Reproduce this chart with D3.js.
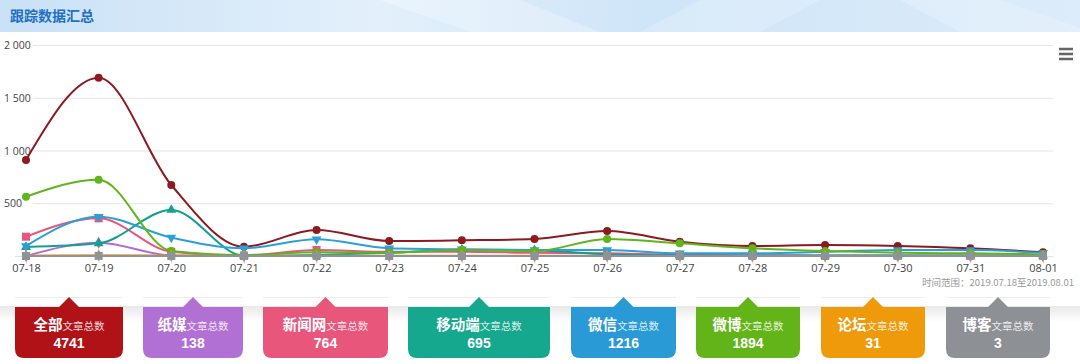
<!DOCTYPE html>
<html><head><meta charset="utf-8">
<script src="https://cdn.jsdelivr.net/npm/d3@7"></script>
<style>html,body{margin:0;padding:0;background:#fff;overflow:hidden}svg{display:block}</style>
</head><body>
<svg id="c" width="1080" height="364"></svg>
<script>
const categories = ["07-18","07-19","07-20","07-21","07-22","07-23","07-24","07-25","07-26","07-27","07-28","07-29","07-30","07-31","08-01"];
const seriesNames = ["全部","纸媒","新闻网","移动端","微信","微博","论坛","博客"];
const allValues     = [910,1690,673,88,246,142,149,161,237,136,95,104,95,73,35];
const paperValues   = [0,126,5,1,1,1,1,1,1,0,0,0,0,0,0];
const newsValues    = [183,357,40,5,57,40,40,30,25,10,8,5,5,5,3];
const mobileValues  = [85,120,436,3,10,30,60,55,15,5,5,5,5,5,3];
const wechatValues  = [95,372,174,73,158,73,63,57,57,25,25,40,57,57,30];
const weiboValues   = [562,723,47,10,35,31,57,45,161,120,73,47,31,25,15];
const forumValues   = [3,8,4,1,2,2,3,2,1,1,1,1,1,1,0];
const blogValues    = [0,1,0,0,0,0,0,0,0,0,0,0,1,1,0];
const totals = [4741,138,764,695,1216,1894,31,3];
const yTicks = [500,1000,1500,2000];
const yTickLabels = ["500","1 000","1 500","2 000"];
const title = "跟踪数据汇总";
const rangeNote = "时间范围：2019.07.18至2019.08.01";

const seriesValues = [allValues,paperValues,newsValues,mobileValues,wechatValues,weiboValues,forumValues,blogValues];
const lineColors = ["#8c1a1f","#b36ad8","#e8577b","#14a08e","#2b9fd9","#5fb51c","#e9960d","#8e9399"];
const boxColors  = ["#b11217","#b070d4","#e8567b","#15a88e","#2a9ad6","#63b418","#ee9a0a","#8d9196"];
const symbols = ["circle","diamond","square","triangle","triangle-down","circle","diamond","square"];
const boxX = [[15,123],[143,243],[263,388],[408,550],[571,676],[696,800],[821,925],[946,1050]];

const svg = d3.select("#c");
const defs = svg.append("defs");
const hg = defs.append("linearGradient").attr("id","hg").attr("x1","0").attr("x2","1").attr("y1","0").attr("y2","0");
hg.append("stop").attr("offset","0").attr("stop-color","#c9e1f6");
hg.append("stop").attr("offset","0.35").attr("stop-color","#e3f0fb");
hg.append("stop").attr("offset","0.6").attr("stop-color","#cfe5f8");
hg.append("stop").attr("offset","1").attr("stop-color","#dcecfa");
svg.append("rect").attr("x",0).attr("y",0).attr("width",1080).attr("height",32).attr("fill","url(#hg)");
svg.append("path").attr("d","M380,0 L520,0 L600,32 L470,32 Z").attr("fill","#ffffff").attr("opacity",0.25);
svg.append("path").attr("d","M700,0 L820,0 L760,32 L640,32 Z").attr("fill","#ffffff").attr("opacity",0.2);
svg.append("path").attr("d","M900,0 L1000,0 L1080,28 L1080,32 L960,32 Z").attr("fill","#ffffff").attr("opacity",0.2);
svg.append("text").attr("x",10).attr("y",21).attr("fill","#1f6fc5").attr("font-family","Noto Sans CJK SC")
  .attr("font-weight","bold").attr("font-size",14).text(title);

const x = d3.scalePoint().domain(categories).range([26,1043]);
const y = d3.scaleLinear().domain([0,2000]).range([256,45]);

svg.append("g").selectAll("line").data(yTicks).join("line")
  .attr("x1",33).attr("x2",1053).attr("y1",d=>y(d)+0.5).attr("y2",d=>y(d)+0.5)
  .attr("stroke","#e6e6e6").attr("stroke-width",1);
svg.append("g").selectAll("text").data(yTicks).join("text")
  .attr("x",4).attr("y",d=>y(d)+4).attr("font-family","Open Sans, sans-serif").attr("font-size",10.5)
  .attr("fill","#444").text((d,i)=>yTickLabels[i]);

const xAxis = d3.axisBottom(x).tickSize(7).tickPadding(1);
const gx = svg.append("g").attr("transform","translate(0,256.5)").call(xAxis);
gx.select(".domain").attr("d","M15,0H1053").attr("stroke","#dde3ec");
gx.selectAll(".tick line").attr("stroke","#ccd6eb");
gx.selectAll(".tick text").attr("font-family","Open Sans, sans-serif").attr("font-size",11).attr("fill","#444");

const line = d3.line().x((d,i)=>x(categories[i])).y(d=>y(d)).curve(d3.curveMonotoneX);
const symMap = {circle:d3.symbolCircle,diamond:d3.symbolDiamond,square:d3.symbolSquare,triangle:d3.symbolTriangle,"triangle-down":d3.symbolTriangle};
seriesValues.forEach((vals,si)=>{
  const g = svg.append("g");
  g.append("path").attr("d",line(vals)).attr("fill","none").attr("stroke",lineColors[si]).attr("stroke-width",2);
  const sym = d3.symbol().type(symMap[symbols[si]]).size(symbols[si]==="circle"?50:symbols[si]==="square"?64:42);
  g.selectAll("path.m").data(vals).join("path").attr("class","m")
    .attr("d",sym())
    .attr("transform",(d,i)=>`translate(${x(categories[i])},${y(d)})`+(symbols[si]==="triangle-down"?" rotate(180)":""))
    .attr("fill",lineColors[si]);
});

svg.append("g").selectAll("line").data([49,54,59]).join("line")
  .attr("x1",1059).attr("x2",1073).attr("y1",d=>d).attr("y2",d=>d).attr("stroke","#666").attr("stroke-width",2.5);

svg.append("text").attr("x",1074).attr("y",286).attr("text-anchor","end").attr("font-family","Noto Sans CJK SC")
  .attr("font-size",9.5).attr("fill","#999").text(rangeNote);

const sg = defs.append("linearGradient").attr("id","sg").attr("x1","0").attr("x2","0").attr("y1","0").attr("y2","1");
sg.append("stop").attr("offset","0").attr("stop-color","#e9e9e9");
sg.append("stop").attr("offset","1").attr("stop-color","#ffffff");
svg.append("rect").attr("x",0).attr("y",306).attr("width",1080).attr("height",16).attr("fill","url(#sg)");
const cards = svg.append("g");
seriesNames.forEach((name,i)=>{
  const [x1,x2] = boxX[i];
  const cx = (x1+x2)/2, top=307, bot=358, r=9;
  cards.append("line").attr("x1",x1).attr("x2",x2).attr("y1",297.5).attr("y2",297.5).attr("stroke","#eeeeee");
  const p = `M${x1},${top} L${cx-10},${top} L${cx},${top-10} L${cx+10},${top} L${x2},${top} L${x2},${bot-r} Q${x2},${bot} ${x2-r},${bot} L${x1+r},${bot} Q${x1},${bot} ${x1},${bot-r} Z`;
  cards.append("path").attr("d",p).attr("fill",boxColors[i]);
  const t = cards.append("text").attr("x",cx).attr("y",330).attr("text-anchor","middle").attr("font-family","Noto Sans CJK SC").attr("fill","#fff");
  t.append("tspan").attr("font-weight","bold").attr("font-size",14.5).text(name);
  t.append("tspan").attr("font-size",10.5).attr("fill-opacity",0.85).text("文章总数");
  cards.append("text").attr("x",cx).attr("y",348).attr("text-anchor","middle").attr("font-family","Liberation Sans, Arial, sans-serif")
    .attr("font-weight","bold").attr("font-size",14).attr("fill","#fff").text(totals[i]);
});
</script>
</body></html>
